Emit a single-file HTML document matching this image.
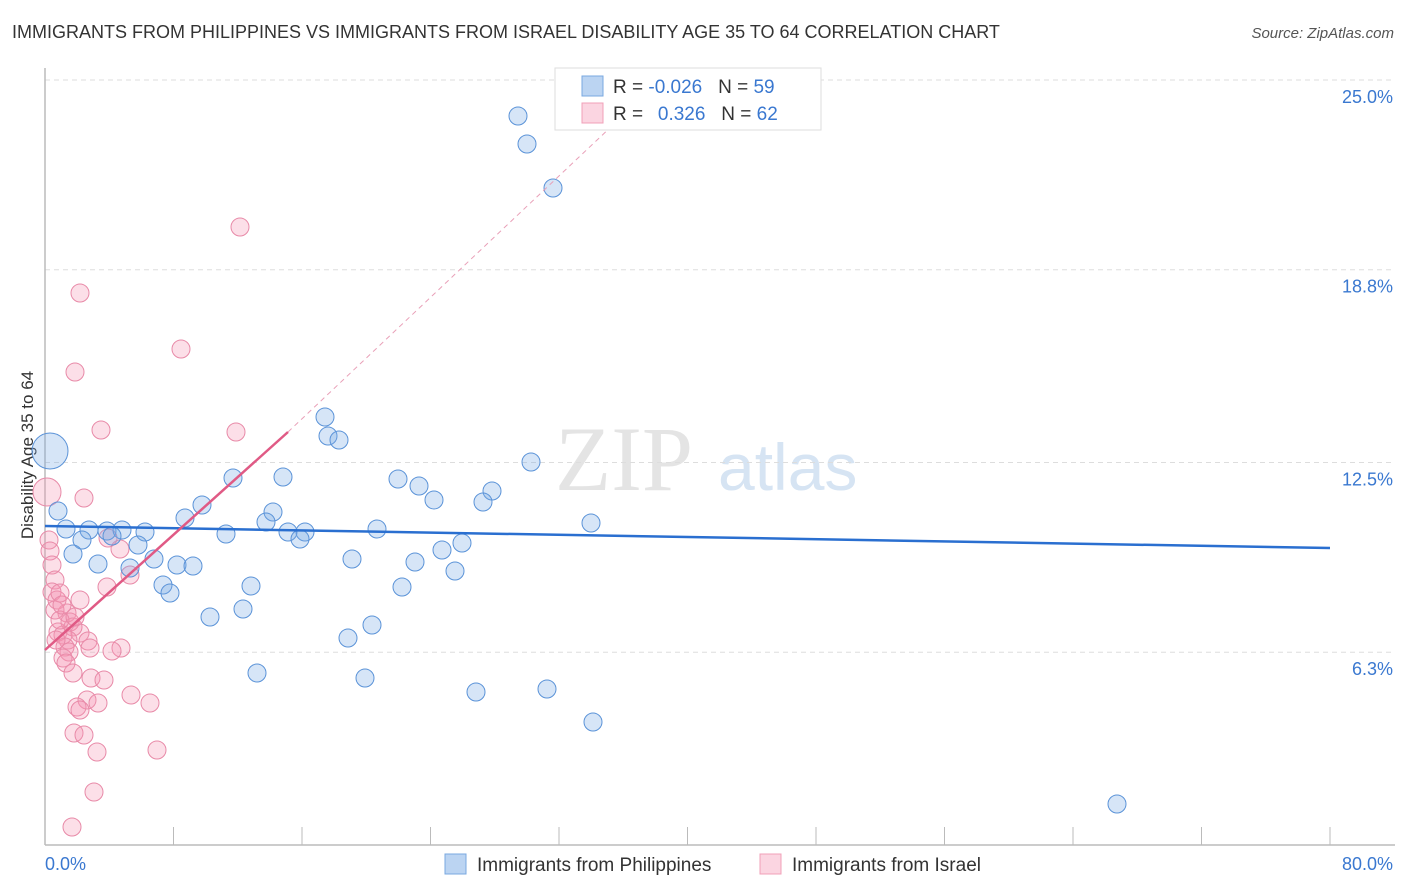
<!DOCTYPE html>
<html><head><meta charset="utf-8"><style>
body{margin:0;background:#fff;font-family:"Liberation Sans",sans-serif}
#wrap{position:relative;width:1406px;height:892px}
.t{position:absolute;white-space:nowrap}
</style></head><body><div id="wrap">
<div class="t" style="left:12px;top:22px;font-size:18px;color:#333">IMMIGRANTS FROM PHILIPPINES VS IMMIGRANTS FROM ISRAEL DISABILITY AGE 35 TO 64 CORRELATION CHART</div>
<div class="t" style="right:12px;top:25px;font-size:15px;color:#555;font-style:italic">Source: ZipAtlas.com</div>
<svg id="svg" width="1406" height="892" style="position:absolute;left:0;top:0"></svg>
</div>
<script>
const blueX=[(518),(527),(553),(325),(328),(339),(531),(233),(283),(398),(419),(492),(434),(483),(185),(202),(273),(266),(591),(58),(66),(89),(107),(122),(145),(112),(226),(288),(305),(300),(377),(462),(82),(138),(442),(73),(352),(154),(415),(98),(177),(193),(130),(455),(163),(251),(170),(402),(243),(210),(372),(348),(257),(365),(476),(547),(593),(1117)].map(p=>(p-45)*80/1285);
const blueY=[116,144,188,417,436,440,462,478,477,479,486,491,500,502,518,505,512,522,523,511,529,530,531,530,532,536,534,532,532,539,529,543,540,545,550,554,559,559,562,564,565,566,568,571,585,586,593,587,609,617,625,638,673,678,692,689,722,804].map(p=>25-(p-80)/30.6);
const pinkX=[240,80,181,75,236,101,84,120,108,107,130,49,50,52,55,52,57,60,80,67,55,70,58,63,80,73,68,88,121,112,90,65,69,63,66,73,91,104,131,150,87,98,77,80,74,84,97,157,94,72,56,60,75,62].map(p=>(p-45)*80/1285);
const pinkY=[227,293,349,372,432,430,498,549,538,587,575,540,551,565,580,592,600,593,600,613,610,622,632,635,633,627,640,641,648,651,648,647,652,658,663,673,678,680,695,703,700,703,707,710,733,735,752,750,792,827,640,620,617,605].map(p=>25-(p-80)/30.6);
const yTicks=[25.0,18.8,12.5,6.3];
const X=v=>45+v*1285/80, Y=v=>80+(25-v)*30.6;
const s=document.getElementById('svg');const NS='http://www.w3.org/2000/svg';
function mk(t,a,p){const e=document.createElementNS(NS,t);for(const k in a)e.setAttribute(k,a[k]);(p||s).appendChild(e);return e;}
let wm=mk('text',{x:555,y:490,'font-size':92,fill:'#e4e4e4','font-family':'Liberation Serif'});wm.textContent='ZIP';


let wm2=mk('text',{x:718,y:490,'font-size':66,fill:'#d6e4f3','font-family':'Liberation Sans'});wm2.textContent='atlas';


yTicks.forEach(v=>{const g=mk('line',{x1:45,x2:1395,y1:Y(v),y2:Y(v),stroke:'#ddd','stroke-dasharray':'5,4'});


const t=mk('text',{x:1393,y:Y(v)+23,'text-anchor':'end','font-size':18,fill:'#3a78d0'});t.textContent=v.toFixed(1)+'%';

});
const ax=mk('line',{x1:45,x2:45,y1:68,y2:845,stroke:'#bbb','stroke-width':1.5});


const bx=mk('line',{x1:45,x2:1395,y1:845,y2:845,stroke:'#bbb','stroke-width':1.5});


for(let i=1;i<=10;i++){const tk=mk('line',{x1:X(i*8),x2:X(i*8),y1:827,y2:845,stroke:'#bbb'});

}
[['0.0%',45,'start'],['80.0%',1393,'end']].forEach(a=>{const t=mk('text',{x:a[1],y:870,'text-anchor':a[2],'font-size':18,fill:'#3a78d0'});t.textContent=a[0];

});
const yt=mk('text',{transform:'translate(33,455) rotate(-90)','text-anchor':'middle','font-size':17,fill:'#333'});yt.textContent='Disability Age 35 to 64';


pinkX.forEach((x,i)=>{const c=mk('circle',{cx:X(x),cy:Y(pinkY[i]),r:9,fill:'rgba(244,150,180,0.3)',stroke:'#e88aa8','stroke-width':1});

});
const pb=mk('circle',{cx:47,cy:492,r:14,fill:'rgba(244,150,180,0.3)',stroke:'#e88aa8'});


blueX.forEach((x,i)=>{const c=mk('circle',{cx:X(x),cy:Y(blueY[i]),r:9,fill:'rgba(120,170,230,0.3)',stroke:'#5b93d8','stroke-width':1});

});
const bb=mk('circle',{cx:50,cy:451,r:18,fill:'rgba(120,170,230,0.3)',stroke:'#5b93d8'});


const bl=mk('line',{x1:45,y1:526,x2:1330,y2:548,stroke:'#2a6fd0','stroke-width':2.5});


const pd=mk('line',{x1:288,y1:432,x2:650,y2:90,stroke:'#e9a0b8','stroke-width':1,'stroke-dasharray':'5,4'});


const pl=mk('line',{x1:45,y1:650,x2:288,y2:432,stroke:'#e05a85','stroke-width':2.5});


// legend box
const lg=mk('rect',{x:555,y:68,width:266,height:62,fill:'#fff',stroke:'#ddd'});


[['rgba(120,170,230,0.5)','#7aa8e0','-0.026','59',86],['rgba(244,150,180,0.4)','#f0a0b8',' 0.326','62',113]].forEach(r=>{
const sq=mk('rect',{x:582,y:r[4]-10,width:21,height:20,fill:r[0],stroke:r[1]});


const t=mk('text',{x:613,y:r[4]+7,'font-size':19,fill:'#333','xml:space':'preserve'});
t.innerHTML='R = <tspan fill="#3a78d0">'+(r[2].trim()==r[2]?r[2]:'\u2002'+r[2].trim())+'</tspan>   N = <tspan fill="#3a78d0">'+r[3]+'</tspan>';
t.setAttribute('style','white-space:pre');

});
// bottom legend
[['rgba(120,170,230,0.5)','#7aa8e0',445,'Immigrants from Philippines'],['rgba(244,150,180,0.4)','#f0a0b8',760,'Immigrants from Israel']].forEach(r=>{
const sq=mk('rect',{x:r[2],y:854,width:21,height:20,fill:r[0],stroke:r[1]});


const t=mk('text',{x:r[2]+32,y:871,'font-size':19,fill:'#333'});t.textContent=r[3];

});
</script></body></html>
